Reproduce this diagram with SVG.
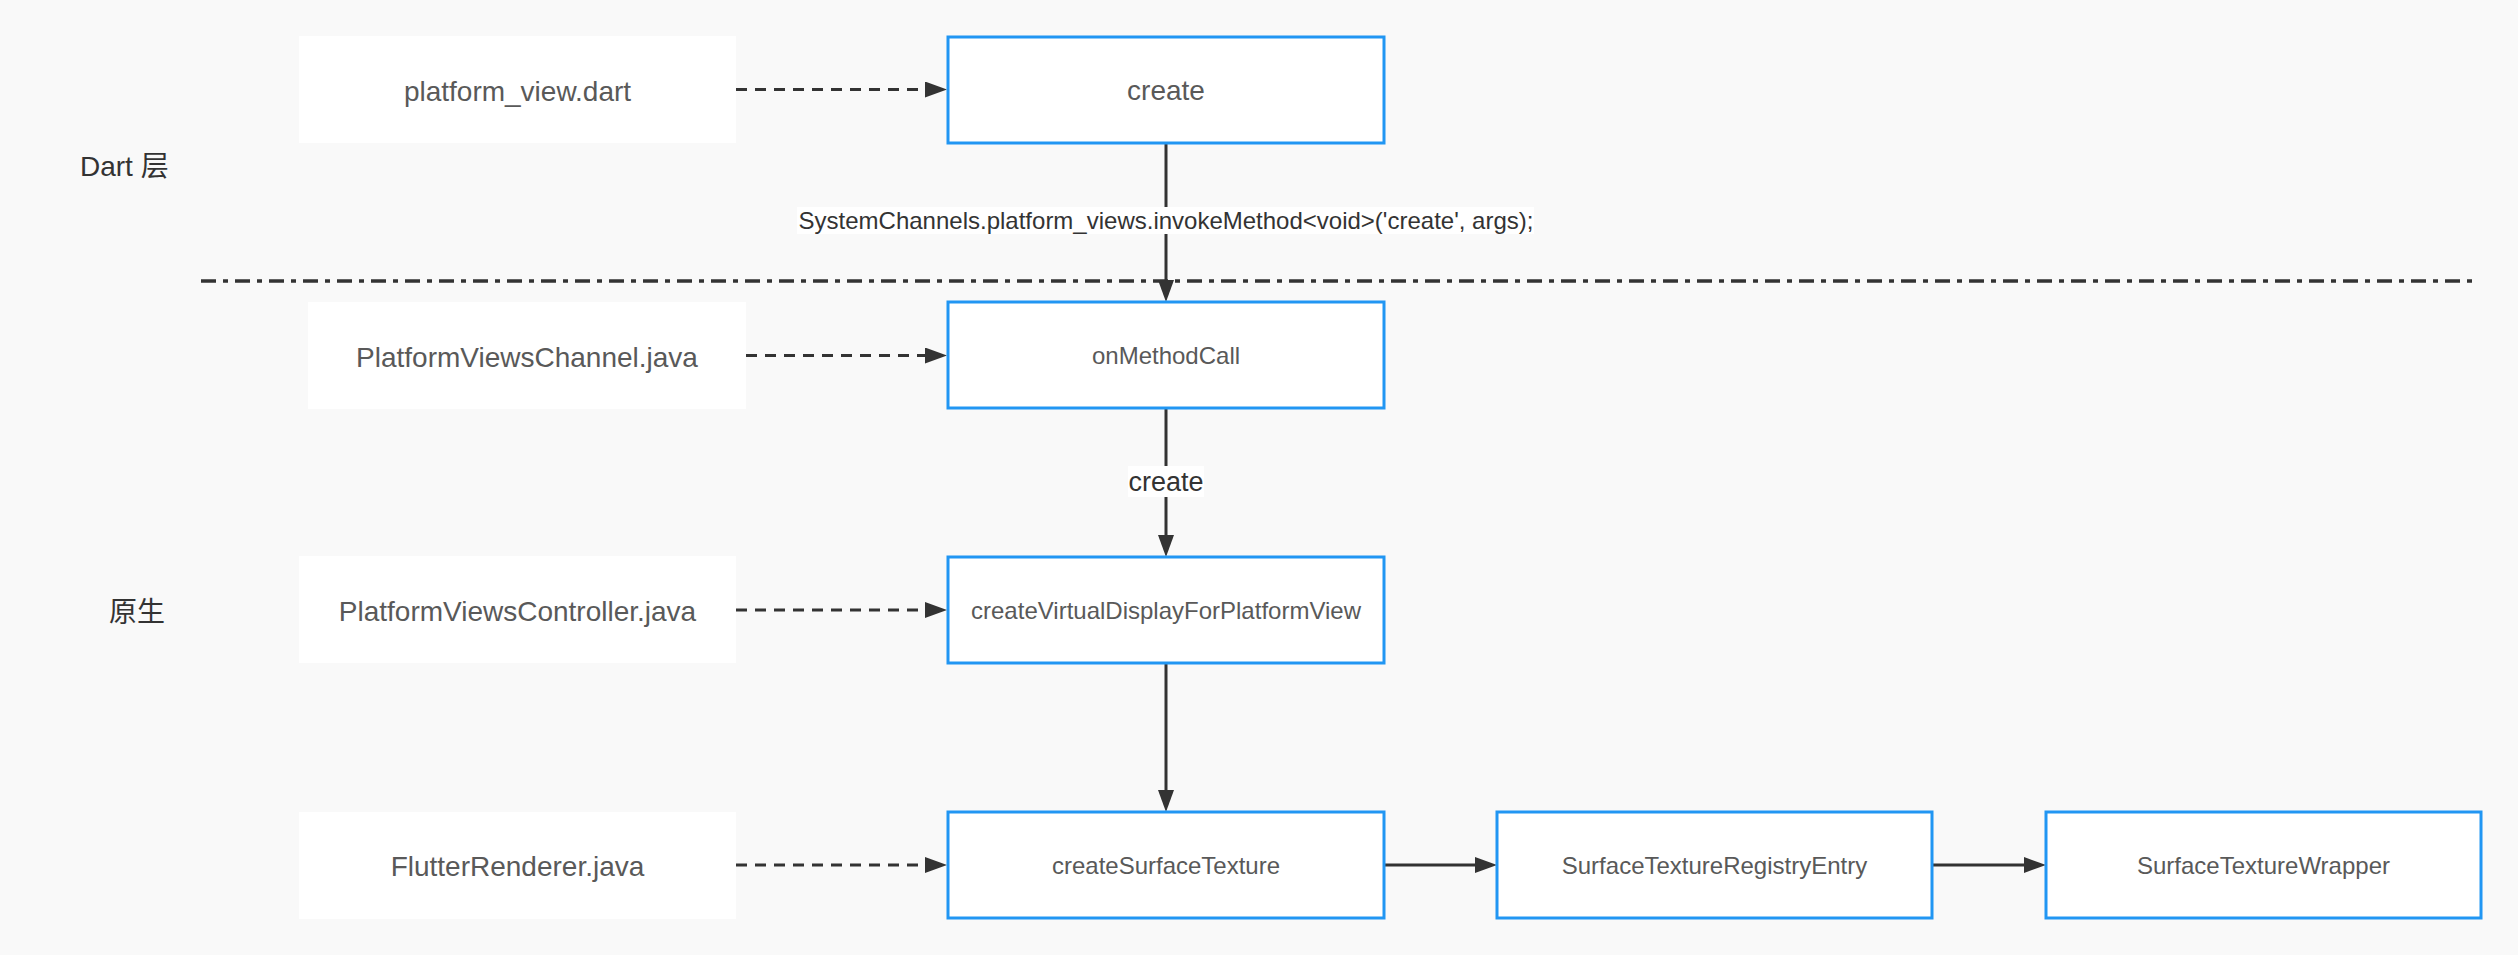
<svg xmlns="http://www.w3.org/2000/svg" width="2518" height="955" viewBox="0 0 2518 955">
<style>
text{font-family:"Liberation Sans","Noto Sans CJK SC",Arial,sans-serif;}
.file rect{fill:#ffffff;stroke:none;}
.file text{font-size:28px;fill:#595959;text-anchor:middle;}
.fn rect{fill:#ffffff;stroke:#2196F3;stroke-width:3;}
.fn text{font-size:24px;fill:#595959;text-anchor:middle;}
.fn text.big{font-size:28px;}
.layer{font-size:28px;fill:#333333;}
.dash{stroke:#333333;stroke-width:3;fill:none;stroke-dasharray:11 8;}
.solid{stroke:#333333;stroke-width:3;fill:none;}
.lbl{font-size:24px;fill:#333333;text-anchor:middle;}
.lblbg{fill:#ffffff;}
</style>
<defs>
<marker id="arr" markerUnits="userSpaceOnUse" markerWidth="22" markerHeight="16" refX="10" refY="8" orient="auto">
<path d="M0,0 L22,8 L0,16 z" fill="#333333"/>
</marker>
</defs>
<rect x="0" y="0" width="2518" height="955" fill="#f9f9f9"/>

<text id="label-dart" class="layer" x="80" y="176">Dart 层</text>
<text id="label-native" class="layer" x="109" y="622">原生</text>

<line id="divider" x1="201" y1="281" x2="2473" y2="281" stroke="#333333" stroke-width="3.5" stroke-dasharray="15 7 5 7"/>

<g id="connectors">
<line class="dash" x1="736" y1="89.5" x2="935" y2="89.5" marker-end="url(#arr)"/>
<line class="dash" x1="746" y1="355.5" x2="935" y2="355.5" marker-end="url(#arr)"/>
<line class="dash" x1="736" y1="610" x2="935" y2="610" marker-end="url(#arr)"/>
<line class="dash" x1="736" y1="865" x2="935" y2="865" marker-end="url(#arr)"/>
<line class="solid" x1="1166" y1="143" x2="1166" y2="290" marker-end="url(#arr)"/>
<line class="solid" x1="1166" y1="409" x2="1166" y2="545" marker-end="url(#arr)"/>
<line class="solid" x1="1166" y1="663" x2="1166" y2="800" marker-end="url(#arr)"/>
<line class="solid" x1="1384" y1="865" x2="1485" y2="865" marker-end="url(#arr)"/>
<line class="solid" x1="1932" y1="865" x2="2034" y2="865" marker-end="url(#arr)"/>
<g id="label-invoke">
<rect class="lblbg" x="797" y="207" width="737" height="27"/>
<text class="lbl" x="1166" y="229">SystemChannels.platform_views.invokeMethod&lt;void&gt;('create', args);</text>
</g>
<g id="label-create">
<rect class="lblbg" x="1128" y="466" width="76" height="31"/>
<text class="lbl" x="1166" y="491" style="font-size:27px">create</text>
</g>
</g>

<g id="file-platform-view" class="file">
<rect x="299" y="36" width="437" height="107"/>
<text x="517.5" y="101">platform_view.dart</text>
</g>
<g id="file-channel" class="file">
<rect x="308" y="302" width="438" height="107"/>
<text x="527" y="367">PlatformViewsChannel.java</text>
</g>
<g id="file-controller" class="file">
<rect x="299" y="556" width="437" height="107"/>
<text x="517.5" y="621">PlatformViewsController.java</text>
</g>
<g id="file-renderer" class="file">
<rect x="299" y="812" width="437" height="107"/>
<text x="517.5" y="876">FlutterRenderer.java</text>
</g>

<g id="node-create" class="fn">
<rect x="948" y="37" width="436" height="106"/>
<text class="big" x="1166" y="100">create</text>
</g>
<g id="node-onmethodcall" class="fn">
<rect x="948" y="302" width="436" height="106"/>
<text x="1166" y="364">onMethodCall</text>
</g>
<g id="node-createvd" class="fn">
<rect x="948" y="557" width="436" height="106"/>
<text x="1166" y="619">createVirtualDisplayForPlatformView</text>
</g>
<g id="node-createst" class="fn">
<rect x="948" y="812" width="436" height="106"/>
<text x="1166" y="874">createSurfaceTexture</text>
</g>
<g id="node-registry" class="fn">
<rect x="1497" y="812" width="435" height="106"/>
<text x="1714.5" y="874">SurfaceTextureRegistryEntry</text>
</g>
<g id="node-wrapper" class="fn">
<rect x="2046" y="812" width="435" height="106"/>
<text x="2263.5" y="874">SurfaceTextureWrapper</text>
</g>
</svg>
